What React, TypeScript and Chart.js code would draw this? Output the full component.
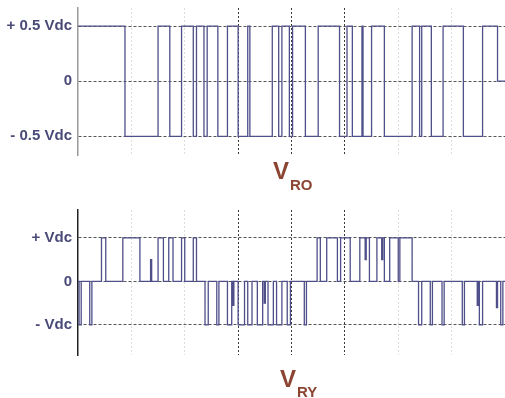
import React, { useEffect, useRef } from "react";
import { Chart, registerables } from "chart.js";

Chart.register(...registerables);

// time axis in ms (grid every 5 ms)
const xMin = 0;
const xMax = 40;
const xStep = 5;
const darkGridTimes = [15, 20, 25];
const faintGridTimes = [5, 10, 30, 35];

// V_RO : pole voltage (two-level)
const roTimes = [0, 4.4, 7.5, 8.6, 9.7, 10.8, 11.1, 11.8, 12.1, 13.1, 14.0, 15.0, 15.9, 16.1, 18.2, 18.8, 19.1, 19.8, 20.1, 21.3, 22.5, 24.5, 25.2, 25.7, 26.6, 26.7, 27.5, 28.7, 31.3, 32.0, 32.2, 33.1, 34.2, 36.1, 37.9, 39.3, 40];
const roLevels = [0.5, -0.5, 0.5, -0.5, 0.5, -0.5, 0.5, -0.5, 0.5, -0.5, 0.5, -0.5, 0.5, -0.5, 0.5, -0.5, 0.5, -0.5, 0.5, -0.5, 0.5, -0.5, 0.5, -0.5, 0.5, -0.5, 0.5, -0.5, 0.5, -0.5, 0.5, -0.5, 0.5, -0.5, 0.5, 0, 0];
const roTickValues = [-0.5, 0, 0.5];
const roTickLabels = ["- 0.5 Vdc", "0", "+ 0.5 Vdc"];

// V_RY : line voltage (three-level)
const ryTimes = [0, 0.1, 0.3, 1.1, 1.3, 2.2, 2.6, 4.2, 5.8, 6.8, 6.9, 7.5, 8.0, 8.5, 8.9, 9.7, 10.0, 10.8, 11.1,
  11.9, 12.2, 13.0, 13.2, 14.0, 14.4, 14.5, 14.6, 15.0, 15.6, 15.9, 16.3, 16.8, 17.3, 17.45, 17.55, 17.8, 18.3, 18.6, 19.1, 19.6, 19.9, 21.2, 21.4,
  22.4, 22.7, 23.3, 24.3, 24.6, 25.5, 26.4, 26.9, 27.0, 27.3, 28.0, 28.45, 28.55, 28.7, 29.2, 30.0, 30.15, 31.3,
  31.9, 32.2, 33.0, 33.2, 34.1, 34.3, 36.0, 36.2, 37.4, 37.5, 37.6, 37.9, 39.2, 39.3, 39.6, 39.8, 40];
const ryLevels = [0, -1, 0, -1, 0, 1, 0, 1, 0, 0.5, 0, 1, 0, 1, 0, 1, 0, 1, 0,
  -1, 0, -1, 0, -1, 0, -0.55, 0, -1, 0, -1, 0, -1, 0, -0.5, 0, -1, 0, -1, 0, -1, 0, -1, 0,
  1, 0, 1, 0, 1, 0, 1, 0.5, 1, 0, 1, 0.5, 1, 0, 1, 0, 1, 0,
  -1, 0, -1, 0, -1, 0, -1, 0, -0.55, 0, -1, 0, -0.6, 0, -1, 0, 0];
const ryTickValues = [-1, 0, 1];
const ryTickLabels = ["- Vdc", "0", "+ Vdc"];

const LINE = "#4f4f8a";
const TICK = "#4a4a78";
const TITLE = "#8b4532";
const FONT = "'Liberation Sans', Arial, sans-serif";

function makeConfig(
  times: number[], levels: number[], yMin: number, yMax: number,
  tickVals: number[], tickLabels: string[], axisColor: string,
  padTop: number, padBottom: number
): any {
  return {
    type: "line",
    data: {
      datasets: [{
        data: times.map((t, i) => ({ x: t, y: levels[i] })),
        stepped: "before",
        borderColor: LINE,
        borderWidth: 1.3,
        pointRadius: 0,
        fill: false,
      }],
    },
    options: {
      animation: false,
      responsive: false,
      maintainAspectRatio: false,
      layout: { padding: { top: padTop, bottom: padBottom, left: 0, right: 0 } },
      plugins: { legend: { display: false }, tooltip: { enabled: false } },
      scales: {
        x: {
          type: "linear",
          min: xMin,
          max: xMax,
          ticks: { display: false, stepSize: xStep },
          grid: {
            drawTicks: false,
            lineWidth: 1,
            color: (ctx: any) => {
              const v = ctx.tick ? ctx.tick.value : null;
              if (darkGridTimes.includes(v)) return "#3a3a3a";
              if (faintGridTimes.includes(v)) return "#dcdcdc";
              return "rgba(0,0,0,0)";
            },
          },
          border: { display: false, dash: [2, 2] },
          afterFit: (s: any) => {
            s.height = 0;
            s.paddingLeft = 0; s.paddingRight = 0; s.paddingTop = 0; s.paddingBottom = 0;
          },
        },
        y: {
          min: yMin,
          max: yMax,
          afterBuildTicks: (s: any) => { s.ticks = tickVals.map((v) => ({ value: v })); },
          ticks: {
            callback: (_v: any, i: number) => tickLabels[i],
            color: TICK,
            font: { family: FONT, size: 15, weight: "bold" },
            padding: 6,
          },
          grid: { drawTicks: false, color: "#555555", lineWidth: 1 },
          border: { display: true, color: axisColor, width: 1.5, dash: [3, 2] },
          afterFit: (s: any) => {
            s.width = 78;
            s.paddingLeft = 0; s.paddingRight = 0; s.paddingTop = 0; s.paddingBottom = 0;
          },
        },
      },
    },
  };
}

export default function App() {
  const topRef = useRef<HTMLCanvasElement | null>(null);
  const botRef = useRef<HTMLCanvasElement | null>(null);

  useEffect(() => {
    document.body.style.margin = "0";
    const c1 = new Chart(topRef.current as HTMLCanvasElement,
      makeConfig(roTimes, roLevels, -0.67, 0.665, roTickValues, roTickLabels, "#9a9a9a", 8, 5));
    const c2 = new Chart(botRef.current as HTMLCanvasElement,
      makeConfig(ryTimes, ryLevels, -1.69, 1.64, ryTickValues, ryTickLabels, "#222222", 5, 5));
    return () => { c1.destroy(); c2.destroy(); };
  }, []);

  const vStyle: React.CSSProperties = {
    position: "absolute", fontFamily: FONT, fontWeight: "bold", color: TITLE,
    fontSize: 24, lineHeight: "24px", whiteSpace: "nowrap",
  };
  const subStyle: React.CSSProperties = {
    position: "absolute", fontFamily: FONT, fontWeight: "bold", color: TITLE,
    fontSize: 15, lineHeight: "15px", whiteSpace: "nowrap",
  };

  return (
    <div style={{ position: "relative", width: 505, height: 398, overflow: "hidden", background: "#fff" }}>
      <canvas ref={topRef} width={505} height={160} style={{ position: "absolute", left: 0, top: 0 }} />
      <canvas ref={botRef} width={505} height={155} style={{ position: "absolute", left: 0, top: 205 }} />
      <div style={{ ...vStyle, left: 273, top: 159 }}>V</div>
      <div style={{ ...subStyle, left: 290, top: 177 }}>RO</div>
      <div style={{ ...vStyle, left: 280, top: 367 }}>V</div>
      <div style={{ ...subStyle, left: 297, top: 384 }}>RY</div>
    </div>
  );
}
